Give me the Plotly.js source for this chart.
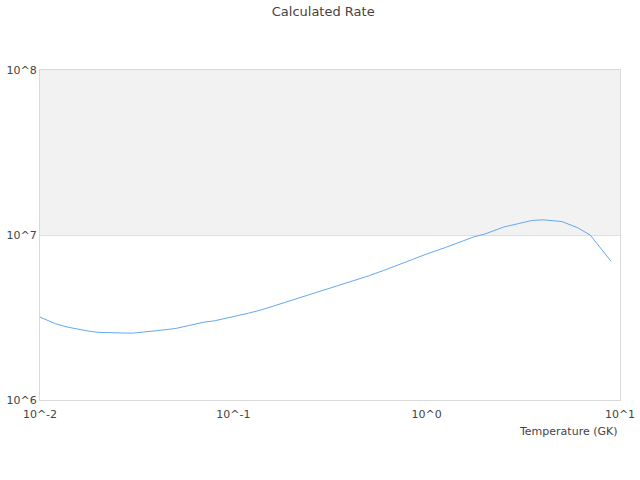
<!DOCTYPE html>
<html>
<head>
<meta charset="utf-8">
<script src="https://cdn.plot.ly/plotly-3.0.1.min.js"></script>
<style>
  html, body { margin: 0; padding: 0; background: #fff; }
  #myPlot { width: 640px; height: 480px; }
</style>
</head>
<body>
<div id="myPlot"></div>
<script>
// temperatures (GK) and the calculated rate
let temps = [0.01, 0.012, 0.014, 0.016, 0.018, 0.02, 0.025, 0.03, 0.04, 0.05,
  0.06, 0.07, 0.08, 0.09, 0.1, 0.12, 0.14, 0.16, 0.18, 0.2,
  0.25, 0.3, 0.35, 0.4, 0.45, 0.5, 0.6, 0.7, 0.8, 0.9,
  1.0, 1.25, 1.5, 1.75, 2.0, 2.5, 3.0, 3.5, 4.0, 5.0,
  6.0, 7.0, 9.0];
let rates = [3.18e6, 2.90e6, 2.76e6, 2.67e6, 2.61e6, 2.57e6, 2.54e6, 2.54e6, 2.63e6, 2.71e6,
  2.84e6, 2.96e6, 3.02e6, 3.11e6, 3.21e6, 3.36e6, 3.52e6, 3.70e6, 3.83e6, 3.99e6,
  4.34e6, 4.63e6, 4.93e6, 5.19e6, 5.44e6, 5.65e6, 6.10e6, 6.55e6, 6.92e6, 7.33e6,
  7.67e6, 8.40e6, 9.14e6, 9.73e6, 1.014e7, 1.117e7, 1.174e7, 1.225e7, 1.236e7, 1.207e7,
  1.110e7, 1.002e7, 6.92e6];

let xTickVals = [0.01, 0.1, 1, 10];
let xTickText = ['10^-2', '10^-1', '10^0', '10^1'];
let yTickVals = [1e6, 1e7, 1e8];
let yTickText = ['10^6', '10^7', '10^8'];

// shaded band on the rate axis
let bandLow = 1e7;
let bandHigh = 1e8;

let data1 = [{
  x: temps,
  y: rates,
  type: 'scatter',
  mode: 'lines',
  line: { color: '#64a9f0', width: 1 },
  hoverinfo: 'x+y'
}];

let layout = {
  width: 640,
  height: 480,
  margin: { l: 40, r: 20, t: 70, b: 80 },
  paper_bgcolor: '#fff',
  plot_bgcolor: '#fff',
  showlegend: false,
  font: { family: 'DejaVu Sans, sans-serif', size: 11, color: '#444' },
  title: {
    text: 'Calculated Rate',
    font: { size: 13, color: '#444' },
    x: 0.505, xanchor: 'center',
    y: 0.977, yanchor: 'middle'
  },
  xaxis: {
    type: 'log',
    range: [-2, 1],
    tickmode: 'array',
    tickvals: xTickVals,
    ticktext: xTickText,
    showgrid: false,
    zeroline: false,
    showline: true,
    mirror: true,
    linecolor: '#d9d9d9',
    linewidth: 1,
    ticks: '',
    ticklen: 0,
    ticklabelstandoff: 4
  },
  yaxis: {
    type: 'log',
    range: [6, 8],
    tickmode: 'array',
    tickvals: yTickVals,
    ticktext: yTickText,
    showgrid: true,
    gridcolor: '#dedede',
    zeroline: false,
    showline: true,
    mirror: true,
    linecolor: '#d9d9d9',
    linewidth: 1,
    ticks: '',
    ticklen: 0
  },
  shapes: [{
    type: 'rect',
    xref: 'paper', x0: 0, x1: 1,
    yref: 'y', y0: bandLow, y1: bandHigh,
    fillcolor: '#f2f2f2',
    line: { width: 0 },
    layer: 'below'
  }],
  annotations: [{
    text: 'Temperature (GK)',
    xref: 'paper', x: 1, xanchor: 'right',
    yref: 'paper', y: 0, yanchor: 'middle',
    yshift: -31,
    showarrow: false,
    font: { size: 11, color: '#444' }
  }]
};

Plotly.newPlot('myPlot', data1, layout, { displayModeBar: false, staticPlot: true });
</script>
</body>
</html>
